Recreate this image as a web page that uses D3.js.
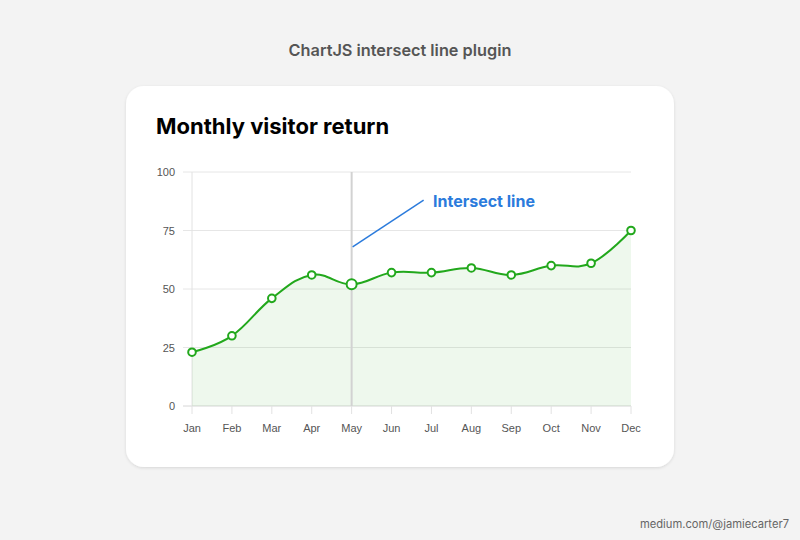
<!DOCTYPE html>
<html>
<head>
<meta charset="utf-8">
<script src="https://cdn.jsdelivr.net/npm/d3@7.9.0/dist/d3.min.js"></script>
<style>
  html, body { margin: 0; padding: 0; background: #f3f3f3; }
  svg { display: block; }
</style>
</head>
<body>
<svg id="chart" width="800" height="540"></svg>
<script>
const months = ['Jan', 'Feb', 'Mar', 'Apr', 'May', 'Jun', 'Jul', 'Aug', 'Sep', 'Oct', 'Nov', 'Dec'];
const visitors = [23, 30, 46, 56, 52, 57, 57, 59, 56, 60, 61, 75];
const yTicks = [0, 25, 50, 75, 100];
const activeMonth = 'May';

const svg = d3.select('#chart');
const green = '#22a81c';
const blue = '#2b7bdc';

// page header and footer
svg.append('text')
  .attr('x', 400).attr('y', 56)
  .attr('text-anchor', 'middle')
  .attr('font-family', 'Inter, sans-serif')
  .attr('font-weight', 600).attr('font-size', 16.3)
  .attr('fill', '#555')
  .text('ChartJS intersect line plugin');

svg.append('text')
  .attr('x', 789).attr('y', 528)
  .attr('text-anchor', 'end')
  .attr('font-family', 'Inter, sans-serif')
  .attr('font-size', 11.2)
  .attr('fill', '#666')
  .text('medium.com/@jamiecarter7');

// card
const defs = svg.append('defs');
const shadow = defs.append('filter').attr('id', 'shadow')
  .attr('x', '-10%').attr('y', '-10%').attr('width', '120%').attr('height', '120%');
shadow.append('feDropShadow')
  .attr('dx', 0).attr('dy', 1).attr('stdDeviation', 1.5)
  .attr('flood-color', '#000').attr('flood-opacity', 0.12);

svg.append('rect')
  .attr('x', 126).attr('y', 86)
  .attr('width', 548).attr('height', 381)
  .attr('rx', 18)
  .attr('fill', '#fff')
  .attr('filter', 'url(#shadow)');

svg.append('text')
  .attr('x', 156).attr('y', 134)
  .attr('font-family', 'Inter, sans-serif')
  .attr('font-weight', 700).attr('font-size', 22)
  .attr('fill', '#000')
  .text('Monthly visitor return');

// scales
const x = d3.scalePoint().domain(months).range([192, 631]);
const y = d3.scaleLinear().domain([0, 100]).range([406, 172]);

const g = svg.append('g');

// horizontal grid
g.selectAll('.grid')
  .data(yTicks)
  .join('line')
  .attr('x1', 183).attr('x2', 631)
  .attr('y1', (d) => y(d)).attr('y2', (d) => y(d))
  .attr('stroke', (d) => (d === 0 ? '#d6d6d6' : '#e6e6e6'))
  .attr('stroke-width', 1);

// left axis line
g.append('line')
  .attr('x1', x('Jan')).attr('x2', x('Jan'))
  .attr('y1', y(100)).attr('y2', y(0) + 8)
  .attr('stroke', '#e2e2e2');

// x ticks
g.selectAll('.xtick')
  .data(months.slice(1))
  .join('line')
  .attr('x1', (d) => x(d)).attr('x2', (d) => x(d))
  .attr('y1', y(0)).attr('y2', y(0) + 8)
  .attr('stroke', '#e2e2e2');

// axis labels
g.selectAll('.ylab')
  .data(yTicks)
  .join('text')
  .attr('x', 175).attr('y', (d) => y(d) + 4)
  .attr('text-anchor', 'end')
  .attr('font-family', 'Liberation Sans, Arial, sans-serif')
  .attr('font-size', 11)
  .attr('fill', '#555')
  .text((d) => d);

g.selectAll('.xlab')
  .data(months)
  .join('text')
  .attr('x', (d) => x(d)).attr('y', 432)
  .attr('text-anchor', 'middle')
  .attr('font-family', 'Liberation Sans, Arial, sans-serif')
  .attr('font-size', 11)
  .attr('fill', '#555')
  .text((d) => d);

const curve = d3.curveCardinal.tension(-0.2);

// area fill
const area = d3.area()
  .x((d, i) => x(months[i]))
  .y0(y(0))
  .y1((d) => y(d))
  .curve(curve);

g.append('path')
  .datum(visitors)
  .attr('d', area)
  .attr('fill', 'rgba(40, 170, 30, 0.08)');

// intersect line
g.append('line')
  .attr('x1', x(activeMonth)).attr('x2', x(activeMonth))
  .attr('y1', y(100)).attr('y2', y(0))
  .attr('stroke', '#d2d2d2')
  .attr('stroke-width', 2);

// data line
const line = d3.line()
  .x((d, i) => x(months[i]))
  .y((d) => y(d))
  .curve(curve);

g.append('path')
  .datum(visitors)
  .attr('d', line)
  .attr('fill', 'none')
  .attr('stroke', green)
  .attr('stroke-width', 2);

// points
g.selectAll('.pt')
  .data(visitors)
  .join('circle')
  .attr('cx', (d, i) => x(months[i]))
  .attr('cy', (d) => y(d))
  .attr('r', (d, i) => (months[i] === activeMonth ? 5 : 3.8))
  .attr('fill', '#fff')
  .attr('stroke', green)
  .attr('stroke-width', 2);

// annotation
const ax = x(activeMonth);
g.append('line')
  .attr('x1', ax + 1).attr('y1', y(68))
  .attr('x2', ax + 72).attr('y2', y(88))
  .attr('stroke', blue)
  .attr('stroke-width', 1.5);

g.append('text')
  .attr('x', 433).attr('y', 207)
  .attr('font-family', 'Inter, sans-serif')
  .attr('font-weight', 700).attr('font-size', 16)
  .attr('fill', blue)
  .text('Intersect line');
</script>
</body>
</html>
